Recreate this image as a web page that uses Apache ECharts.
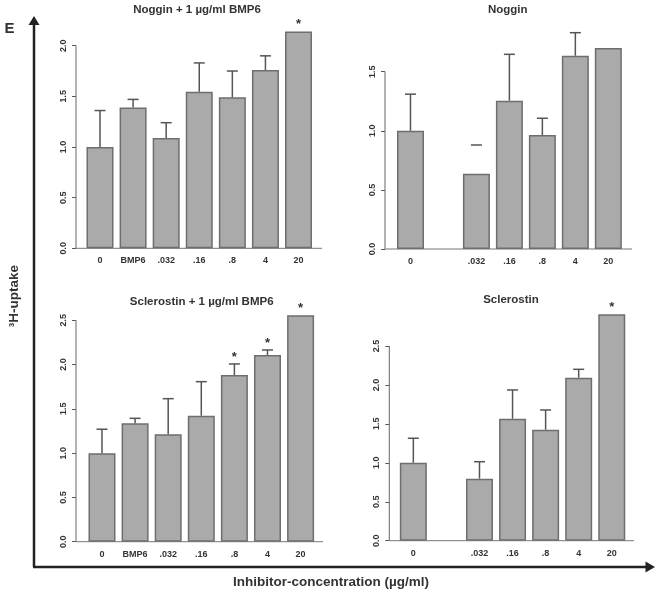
<!DOCTYPE html>
<html><head><meta charset="utf-8">
<script src="https://cdn.jsdelivr.net/npm/echarts@6/dist/echarts.min.js"></script>
<style>html,body{margin:0;padding:0;background:#fff}#c{width:659px;height:594px}</style>
</head><body><div id="c"></div>
<script>
// ---------- data ----------
const catsBMP = ['0', 'BMP6', '.032', '.16', '.8', '4', '20'];
const catsPlain = ['0', '', '.032', '.16', '.8', '4', '20'];

const nogginBmpMean   = [1.00, 1.39, 1.09, 1.545, 1.49, 1.76, 2.14];
const nogginBmpErrTop = [1.36, 1.47, 1.24, 1.83, 1.75, 1.90, null];
const nogginBmpStars  = [6];

const nogginMean   = [1.00, null, 0.637, 1.255, 0.964, 1.635, 1.70];
const nogginErrTop = [1.31, null, 0.88, 1.647, 1.106, 1.83, null];
const nogginCapOnly = [2];
const nogginStars  = [];

const sclBmpMean   = [1.00, 1.337, 1.213, 1.423, 1.882, 2.108, 2.556];
const sclBmpErrTop = [1.27, 1.393, 1.615, 1.807, 2.007, 2.165, null];
const sclBmpStars  = [4, 5, 6];

const sclMean   = [1.00, null, 0.796, 1.566, 1.425, 2.093, 2.906];
const sclErrTop = [1.315, null, 1.014, 1.935, 1.678, 2.20, null];
const sclStars  = [6];

const ticksNogginBmp = [0, 0.5, 1.0, 1.5, 2.0];
const ticksNoggin    = [0, 0.5, 1.0, 1.5];
const ticksScl       = [0, 0.5, 1.0, 1.5, 2.0, 2.5];

const titles = ['Noggin + 1 µg/ml BMP6', 'Noggin', 'Sclerostin + 1 µg/ml BMP6', 'Sclerostin'];
const yAxisTitle = '³H-uptake';
const xAxisTitle = 'Inhibitor-concentration (µg/ml)';
const panelLetter = 'E';

// ---------- layout (positions / styles) ----------
const FONT = '"Liberation Sans", Arial, sans-serif';
const panels = [
  { cats: catsBMP, mean: nogginBmpMean, err: nogginBmpErrTop, stars: nogginBmpStars, capOnly: [], ticks: ticksNogginBmp,
    axisX: 76, left: 83.46, width: 231.6, top: 20.38, height: 227.93, max: 2.25, lineEnd: 322,
    title: titles[0], tx: 197, ty: 9.5 },
  { cats: catsPlain, mean: nogginMean, err: nogginErrTop, stars: nogginStars, capOnly: nogginCapOnly, ticks: ticksNoggin,
    axisX: 385, left: 394.0, width: 230.8, top: 18.51, height: 230.49, max: 1.95, lineEnd: 632,
    title: titles[1], tx: 507.7, ty: 9.5 },
  { cats: catsBMP, mean: sclBmpMean, err: sclBmpErrTop, stars: sclBmpStars, capOnly: [], ticks: ticksScl,
    axisX: 76, left: 85.44, width: 231.7, top: 302.59, height: 239.11, max: 2.7, lineEnd: 323,
    title: titles[2], tx: 201.7, ty: 301.7 },
  { cats: catsPlain, mean: sclMean, err: sclErrTop, stars: sclStars, capOnly: [], ticks: ticksScl,
    axisX: 389.3, left: 396.8, width: 231.5, top: 307.0, height: 233.7, max: 3.0, lineEnd: 634,
    title: titles[3], tx: 511, ty: 300 }
];

const grid = [], xAxis = [], yAxis = [], series = [];
const graphic = [];

panels.forEach((p, k) => {
  grid.push({ left: p.left, top: p.top, width: p.width, height: p.height, containLabel: false });
  xAxis.push({
    type: 'category', gridIndex: k, data: p.cats,
    axisLine: { show: false }, axisTick: { show: false },
    axisLabel: { color: '#333', fontFamily: FONT, fontWeight: 'bold', fontSize: 9, margin: 8, interval: 0 },
    splitLine: { show: false }
  });
  yAxis.push({
    type: 'value', gridIndex: k, min: 0, max: p.max, offset: p.left - p.axisX,
    axisLine: { show: false },
    axisTick: { show: true, length: 4, lineStyle: { color: '#555', width: 1 }, customValues: p.ticks },
    axisLabel: { color: '#333', fontFamily: FONT, fontWeight: 'bold', fontSize: 9, rotate: 90, margin: 8,
      customValues: p.ticks, formatter: v => v.toFixed(1) },
    splitLine: { show: false }
  });
  const topTick = p.ticks[p.ticks.length - 1];
  series.push({
    type: 'custom', xAxisIndex: k, yAxisIndex: k, silent: true, z: 1,
    data: [[0, 0]],
    renderItem: (params, api) => {
      const y0 = api.coord([0, 0])[1];
      const yT = api.coord([0, topTick])[1];
      return { type: 'group', children: [
        { type: 'line', shape: { x1: p.axisX, y1: y0, x2: p.axisX, y2: yT }, style: { stroke: '#666', lineWidth: 1 } },
        { type: 'line', shape: { x1: p.axisX, y1: y0, x2: p.lineEnd, y2: y0 }, style: { stroke: '#777', lineWidth: 1 } }
      ]};
    }
  });
  series.push({
    type: 'bar', xAxisIndex: k, yAxisIndex: k, data: p.mean, barWidth: 27, z: 2,
    itemStyle: { color: '#aaaaaa', borderColor: '#6e6e6e', borderWidth: 1.5 },
    silent: true
  });
  const errData = [];
  p.err.forEach((e, i) => { if (e != null) errData.push([i, p.mean[i], e]); });
  series.push({
    type: 'custom', xAxisIndex: k, yAxisIndex: k, silent: true, z: 3,
    encode: { x: 0, y: [1, 2] },
    data: errData,
    renderItem: (params, api) => {
      const i = api.value(0);
      const b = api.coord([i, api.value(1)]);
      const t = api.coord([i, api.value(2)]);
      const ch = [{ type: 'line', shape: { x1: t[0] - 5.5, y1: t[1], x2: t[0] + 5.5, y2: t[1] }, style: { stroke: '#555', lineWidth: 1.5 } }];
      if (p.capOnly.indexOf(i) < 0) {
        ch.push({ type: 'line', shape: { x1: b[0], y1: b[1], x2: t[0], y2: t[1] }, style: { stroke: '#555', lineWidth: 1.5 } });
      }
      return { type: 'group', children: ch };
    }
  });
  const starData = p.stars.map(i => [i, p.err[i] != null ? p.err[i] : p.mean[i]]);
  series.push({
    type: 'custom', xAxisIndex: k, yAxisIndex: k, silent: true, z: 4,
    data: starData,
    renderItem: (params, api) => {
      const c = api.coord([api.value(0), api.value(1)]);
      return { type: 'text', style: { text: '*', x: c[0], y: c[1] - 7, align: 'center', verticalAlign: 'middle',
        font: 'bold 13px ' + FONT, fill: '#333' } };
    }
  });
  graphic.push({ type: 'text', style: { text: p.title, x: p.tx, y: p.ty, align: 'center', verticalAlign: 'middle',
    font: 'bold 11.5px ' + FONT, fill: '#333' } });
});

graphic.push(
  { type: 'line', shape: { x1: 34, y1: 567, x2: 34, y2: 24 }, style: { stroke: '#222', lineWidth: 2.5 } },
  { type: 'polygon', shape: { points: [[34, 16], [28.5, 25], [39.5, 25]] }, style: { fill: '#222' } },
  { type: 'line', shape: { x1: 33, y1: 567, x2: 647, y2: 567 }, style: { stroke: '#222', lineWidth: 2.5 } },
  { type: 'polygon', shape: { points: [[655, 567], [645.5, 561.5], [645.5, 572.5]] }, style: { fill: '#222' } },
  { type: 'text', style: { text: panelLetter, x: 9.5, y: 28.5, align: 'center', verticalAlign: 'middle', font: 'bold 15px ' + FONT, fill: '#333' } },
  { type: 'text', rotation: Math.PI / 2, x: 14, y: 296, style: { text: yAxisTitle, x: 0, y: 0, align: 'center', verticalAlign: 'middle', font: 'bold 13.5px ' + FONT, fill: '#333' } },
  { type: 'text', style: { text: xAxisTitle, x: 331, y: 582, align: 'center', verticalAlign: 'middle', font: 'bold 13.5px ' + FONT, fill: '#333' } }
);

const chart = echarts.init(document.getElementById('c'), null, { renderer: 'canvas' });
chart.setOption({ animation: false, backgroundColor: '#fff', grid, xAxis, yAxis, series, graphic });
</script>
</body></html>
